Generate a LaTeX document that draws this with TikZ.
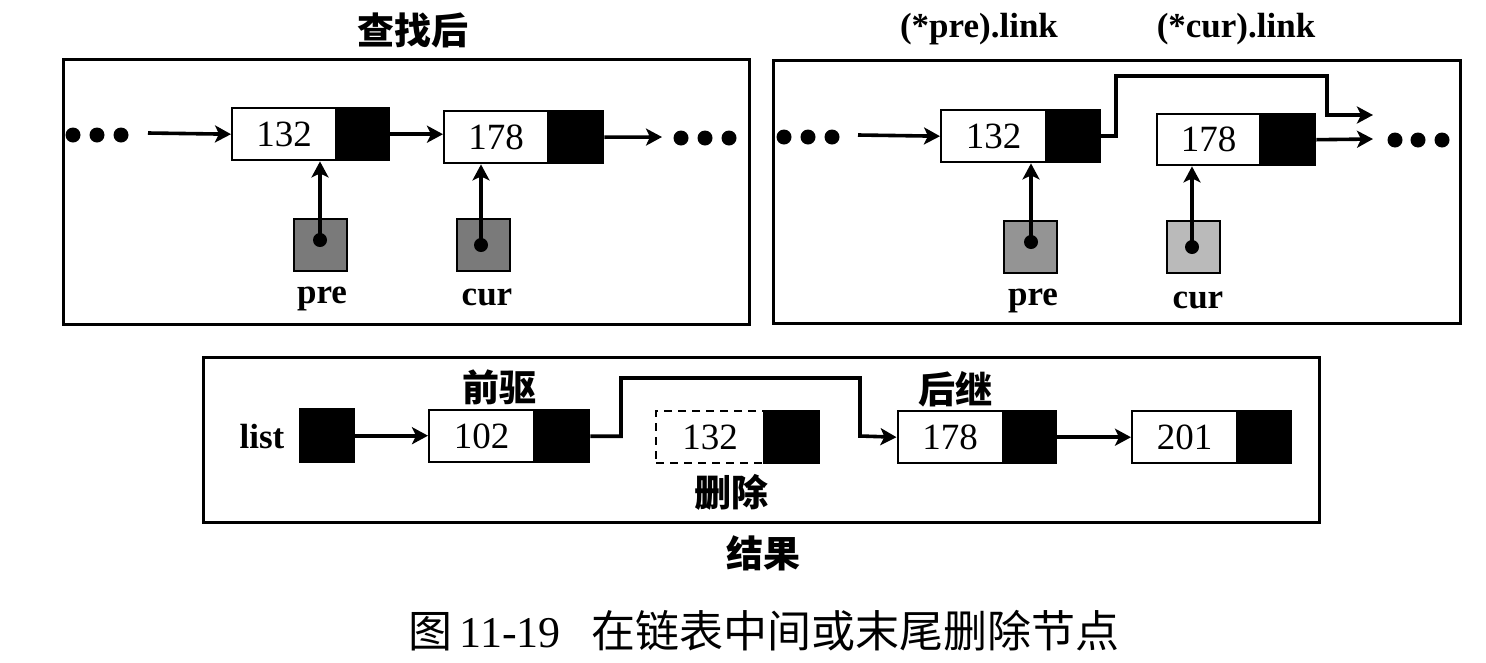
\documentclass[tikz,border=0pt]{standalone}
\usepackage{fontspec}
\setmainfont{Liberation Serif}
\newfontfamily\cjk{Noto Sans CJK SC}
\usetikzlibrary{arrows.meta}
\tikzset{
  frame/.style={draw, line width=2.5pt, inner sep=0pt, anchor=north west},
  dcell/.style={draw, line width=2.4pt, fill=white, inner sep=0pt, anchor=north west,
    font=\fontsize{37}{37}\selectfont},
  pcell/.style={draw, line width=2.4pt, fill=black, inner sep=0pt, anchor=north west},
  ptrbox/.style={draw, line width=2.4pt, inner sep=0pt, anchor=north west,
    minimum width=53pt, minimum height=52pt},
  pdot/.style={circle, fill=black, inner sep=0pt, minimum size=14pt},
  bigdot/.style={circle, fill=black, inner sep=0pt, minimum size=15pt},
  arr/.style={line width=3.6pt, -{Stealth[length=16pt, width=17pt, inset=4pt]}},
  lab/.style={font=\fontsize{35}{35}\selectfont\bfseries},
  clab/.style={font=\fontsize{37}{37}\selectfont\cjk\bfseries},
}
\begin{document}
\begin{tikzpicture}[x=1pt, y=-1pt]
\useasboundingbox (0,0) rectangle (1486,662);
\fill[white] (0,0) rectangle (1486,662);

% ===================== top left panel =====================
\node[clab] (t1) at (413,30) {查找后};
\node[frame, minimum width=686pt, minimum height=265pt] (f1) at (62,58) {};
\node[bigdot] (l1) at (73,135) {};
\node[bigdot] (l2) at (97,135) {};
\node[bigdot] (l3) at (121,135) {};
\coordinate (s1) at (148,133);
\node[dcell, minimum width=104pt, minimum height=52pt] (a1d) at (231,107) {132};
\node[pcell, minimum width=53pt, minimum height=52pt] (a1p) at (335,107) {};
\node[dcell, minimum width=104pt, minimum height=52pt] (a2d) at (443,110) {178};
\node[pcell, minimum width=55pt, minimum height=52pt] (a2p) at (547,110) {};
\coordinate (e1) at (662,137);
\node[bigdot] (r1) at (681,138) {};
\node[bigdot] (r2) at (705,138) {};
\node[bigdot] (r3) at (729,138) {};
\draw[arr] (s1) -- (a1d.west);
\draw[arr] (a1p.east) -- (a1p.east -| a2d.west);
\draw[arr] (a2p.east) -- (e1);

\node[ptrbox, fill=black!52] (p1) at (293,218) {};
\node[pdot] (p1c) at (320,240) {};
\node[ptrbox, fill=black!52] (q1) at (456,218) {};
\node[pdot] (q1c) at (481,245) {};
\draw[arr] (p1c.center) -- (p1c |- a1d.south);
\draw[arr] (q1c.center) -- (q1c |- a2d.south);
\node[lab] (pl1) at (322,299) {pre};
\node[lab] (cl1) at (487,297) {cur};

% ===================== top right panel =====================
\node[lab] (t2) at (979,29) {(*pre).link};
\node[lab] (t3) at (1236,29) {(*cur).link};
\node[frame, minimum width=687pt, minimum height=263pt] (f2) at (772,59) {};
\node[bigdot] (m1) at (784,137) {};
\node[bigdot] (m2) at (808,137) {};
\node[bigdot] (m3) at (832,137) {};
\coordinate (s2) at (858,135);
\node[dcell, minimum width=105pt, minimum height=52pt] (b1d) at (940,109) {132};
\node[pcell, minimum width=54pt, minimum height=52pt] (b1p) at (1045,109) {};
\node[dcell, minimum width=103pt, minimum height=51pt] (b2d) at (1156,113) {178};
\node[pcell, minimum width=55pt, minimum height=51pt] (b2p) at (1259,113) {};
\coordinate (bx) at (1373,115);
\coordinate (bx2) at (1373,139);
\node[bigdot] (n1) at (1395,140) {};
\node[bigdot] (n2) at (1418,140) {};
\node[bigdot] (n3) at (1442,140) {};
\draw[arr] (s2) -- (b1d.west);
\draw[arr, line join=miter] (b1p.east) -| (1116,76) -| (1327,115) -- (bx);
\draw[arr] (b2p.east) -- (bx2);

\node[ptrbox, fill=black!42] (p2) at (1003,220) {};
\node[pdot] (p2c) at (1031,242) {};
\node[ptrbox, fill=black!27] (q2) at (1166,220) {};
\node[pdot] (q2c) at (1192,247) {};
\draw[arr] (p2c.center) -- (p2c |- b1d.south);
\draw[arr] (q2c.center) -- (q2c |- b2d.south);
\node[lab] (pl2) at (1033,301) {pre};
\node[lab] (cl2) at (1198,300) {cur};

% ===================== bottom panel =====================
\node[frame, minimum width=1116pt, minimum height=165pt] (f3) at (202,356) {};
\node[lab] (li) at (262,437) {list};
\node[pcell, minimum width=54pt, minimum height=53pt] (lb) at (299,408) {};
\node[dcell, minimum width=105pt, minimum height=52pt] (c1d) at (428,409) {102};
\node[pcell, minimum width=55pt, minimum height=52pt] (c1p) at (533,409) {};
\node[dcell, dashed, dash pattern=on 8pt off 6pt, minimum width=108pt, minimum height=52pt] (c2d) at (655,410) {132};
\node[pcell, minimum width=55pt, minimum height=52pt] (c2p) at (763,410) {};
\node[dcell, minimum width=105pt, minimum height=52pt] (c3d) at (896.5,410) {178};
\node[pcell, minimum width=53pt, minimum height=52pt] (c3p) at (1001.5,410) {};
\node[dcell, minimum width=105pt, minimum height=52pt] (c4d) at (1131,410) {201};
\node[pcell, minimum width=54pt, minimum height=52pt] (c4p) at (1236,410) {};
\draw[arr] (lb.east) -- (lb.east -| c1d.west);
\draw[arr, line join=miter] (c1p.east) -| (621,378) -| (860,436) -- (c3d.west);
\draw[arr] (c3p.east) -- (c4d.west);
\node[clab] (qq) at (499,387) {前驱};
\node[clab] (hj) at (955,389) {后继};
\node[clab] (sc) at (731,492) {删除};
\node[clab] (jg) at (763,553) {结果};

% ===================== caption =====================
\node[font=\fontsize{44}{44}\selectfont] (cap) at (764,631)
  {{\cjk 图}\,11-19\hspace{0.7em}{\cjk 在链表中间或末尾删除节点}};
\end{tikzpicture}
\end{document}
